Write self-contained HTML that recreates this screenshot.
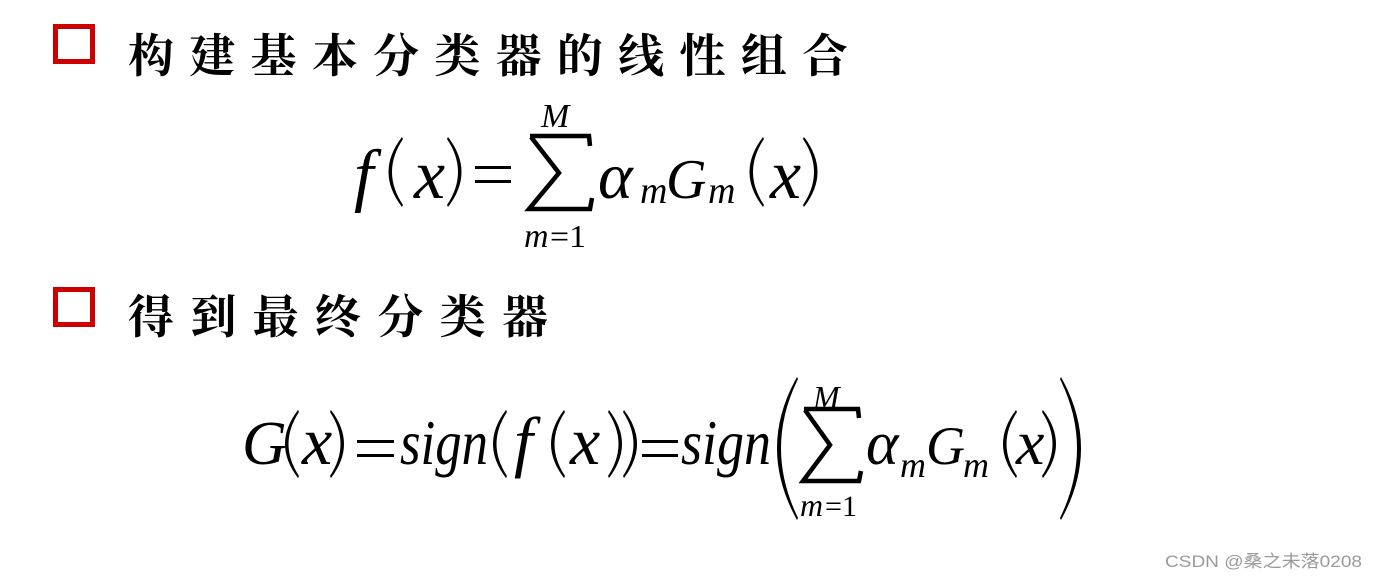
<!DOCTYPE html>
<html><head><meta charset="utf-8"><style>
html,body{margin:0;padding:0;background:#fff;}
svg{display:block;}
.cn{font-family:"Liberation Serif","Noto Serif CJK SC","Noto Sans CJK SC",serif;font-weight:bold;font-size:46px;fill:#000;}
.m{font-family:"Liberation Serif",serif;font-style:italic;fill:#000;}
.r{font-family:"Liberation Serif",serif;fill:#000;}
</style></head><body>
<svg width="1380" height="580" viewBox="0 0 1380 580" xmlns="http://www.w3.org/2000/svg">
<rect x="55.5" y="26.5" width="37" height="35" fill="none" stroke="#cc0000" stroke-width="5"/>
<rect x="55.5" y="289.5" width="37" height="35" fill="none" stroke="#cc0000" stroke-width="5"/>
<text class="cn" x="128" y="72" textLength="720" lengthAdjust="spacing">构建基本分类器的线性组合</text>
<text class="cn" x="128" y="333" textLength="420" lengthAdjust="spacing">得到最终分类器</text>

<!-- Formula 1 -->
<text class="m" x="354" y="198" font-size="70">f</text>
<path d="M402,137 Q375,172 402,207 L403,205 Q381,172 403,139 Z" fill="#000"/>
<text class="m" x="414" y="198" font-size="70">x</text>
<path d="M448,137 Q475,172 448,207 L447,205 Q469,172 447,139 Z" fill="#000"/>
<rect x="475" y="166" width="36" height="3" fill="#000"/>
<rect x="475" y="180" width="36" height="3" fill="#000"/>
<path d="M530,136 L589,136 L590,146 M531,137 L559,173 L529,209 L590,209 L592,198" fill="none" stroke="#000" stroke-width="4.5" stroke-linejoin="miter"/>
<text class="m" x="541" y="127" font-size="34">M</text>
<text class="m" x="524" y="247" font-size="34">m</text>
<text class="r" x="550" y="247" font-size="32" textLength="36" lengthAdjust="spacingAndGlyphs">=1</text>
<text class="m" x="598" y="198" font-size="66">α</text>
<text class="m" x="640" y="203" font-size="38">m</text>
<text class="m" x="666" y="198" font-size="56">G</text>
<text class="m" x="708" y="203" font-size="38">m</text>
<path d="M763,137 Q736,172 763,207 L764,205 Q742,172 764,139 Z" fill="#000"/>
<text class="m" x="770" y="198" font-size="70">x</text>
<path d="M804,137 Q831,172 804,207 L803,205 Q825,172 803,139 Z" fill="#000"/>

<!-- Formula 2 -->
<text class="m" x="242" y="464" font-size="62">G</text>
<path d="M298,410 Q272,444 298,478 L299,476 Q278,444 299,412 Z" fill="#000"/>
<text class="m" x="302" y="464" font-size="68">x</text>
<path d="M331,410 Q357,444 331,478 L330,476 Q351,444 330,412 Z" fill="#000"/>
<rect x="357" y="440" width="37" height="3" fill="#000"/>
<rect x="357" y="454" width="37" height="3" fill="#000"/>
<text class="m" x="400" y="464" font-size="64" textLength="88" lengthAdjust="spacingAndGlyphs">sign</text>
<path d="M506,410 Q480,444 506,478 L507,476 Q486,444 507,412 Z" fill="#000"/>
<text class="m" x="514" y="464" font-size="68">f</text>
<path d="M564,410 Q538,444 564,478 L565,476 Q544,444 565,412 Z" fill="#000"/>
<text class="m" x="570" y="464" font-size="68">x</text>
<path d="M609,410 Q635,444 609,478 L608,476 Q629,444 608,412 Z" fill="#000"/>
<path d="M624,410 Q650,444 624,478 L623,476 Q644,444 623,412 Z" fill="#000"/>
<rect x="642" y="440" width="36" height="3" fill="#000"/>
<rect x="642" y="454" width="36" height="3" fill="#000"/>
<text class="m" x="681" y="464" font-size="64" textLength="90" lengthAdjust="spacingAndGlyphs">sign</text>
<path d="M797,377 Q757,448 797,520 L798,518 Q764,448 798,379 Z" fill="#000"/>
<path d="M804,409 L858,409 L859,418 M805,410 L830,445 L803,481 L859,481 L861,471" fill="none" stroke="#000" stroke-width="4.5" stroke-linejoin="miter"/>
<text class="m" x="813" y="408" font-size="32">M</text>
<text class="m" x="800" y="516" font-size="32">m</text>
<text class="r" x="825" y="516" font-size="30" textLength="32" lengthAdjust="spacingAndGlyphs">=1</text>
<text class="m" x="866" y="464" font-size="62">α</text>
<text class="m" x="900" y="477" font-size="36">m</text>
<text class="m" x="926" y="464" font-size="54">G</text>
<text class="m" x="963" y="477" font-size="36">m</text>
<path d="M1016,410 Q990,444 1016,478 L1017,476 Q996,444 1017,412 Z" fill="#000"/>
<text class="m" x="1016" y="464" font-size="64">x</text>
<path d="M1043,410 Q1069,444 1043,478 L1042,476 Q1063,444 1042,412 Z" fill="#000"/>
<path d="M1061,377 Q1101,448 1061,520 L1060,518 Q1094,448 1060,379 Z" fill="#000"/>

<text x="1165" y="567" font-family="Liberation Sans, Noto Sans CJK SC, sans-serif" font-size="17" fill="#9a9a9a" textLength="197" lengthAdjust="spacingAndGlyphs">CSDN @桑之未落0208</text>
</svg>
</body></html>
